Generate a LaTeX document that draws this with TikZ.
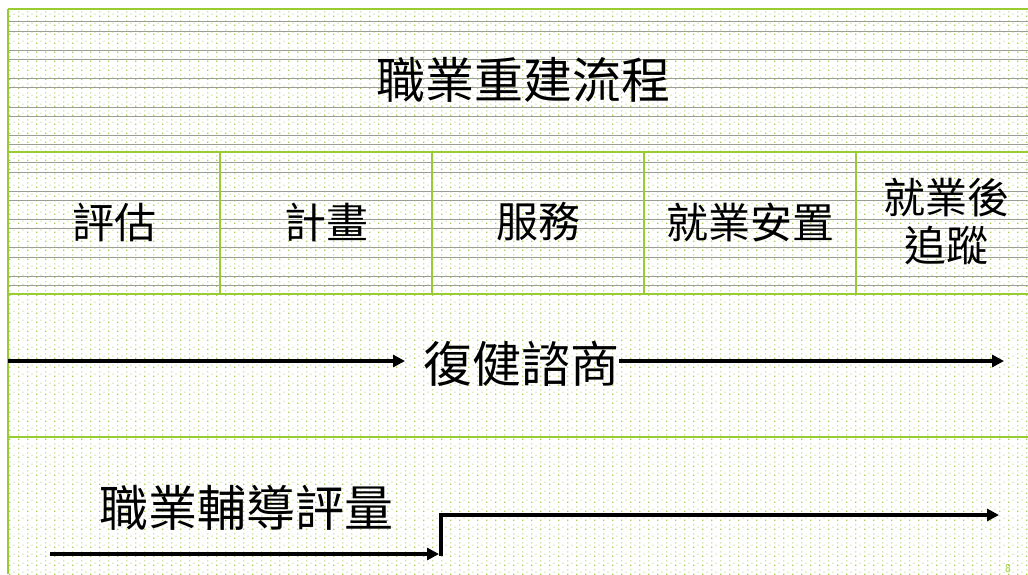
\documentclass[tikz,border=0pt]{standalone}
\usepackage{fontspec}
\newfontfamily\cjk{Noto Sans CJK TC}
\usetikzlibrary{arrows.meta,patterns}
\definecolor{lgreen}{HTML}{99CC33}
\definecolor{dotA}{HTML}{A8D04A}
\definecolor{dotB}{HTML}{D6E4B8}
\definecolor{rulegray}{HTML}{9A9E94}
\pgfdeclarepatterninherentlycolored{mydots}{\pgfpointorigin}{\pgfpoint{9.4pt}{9.4pt}}{\pgfpoint{9.4pt}{9.4pt}}{%
  \pgfsetfillcolor{dotA}\pgfpathrectangle{\pgfpoint{0pt}{0pt}}{\pgfpoint{1.5pt}{1.5pt}}\pgfusepath{fill}%
  \pgfsetfillcolor{dotB}\pgfpathrectangle{\pgfpoint{0pt}{4.7pt}}{\pgfpoint{1.5pt}{1.5pt}}\pgfusepath{fill}%
  \pgfsetfillcolor{dotB}\pgfpathrectangle{\pgfpoint{4.7pt}{2.3pt}}{\pgfpoint{1.2pt}{1.2pt}}\pgfusepath{fill}%
}
\tikzset{
  greenrule/.style={draw=lgreen,line width=2pt},
  grayrule/.style={draw=rulegray,line width=1pt},
  bigtext/.style={font=\cjk\fontsize{49}{56}\selectfont,inner sep=0pt,text=black},
  phasetext/.style={font=\cjk\fontsize{42}{48}\selectfont,inner sep=0pt,text=black,align=center},
  flow/.style={draw=black,line width=3.5pt,-{Triangle[length=12pt,width=12pt]}},
  plain/.style={draw=black,line width=3.5pt},
}
\begin{document}
\begin{tikzpicture}[x=1pt,y=-1pt]
\useasboundingbox (0,0) rectangle (1028,574);
\fill[white] (0,0) rectangle (1028,574);
\fill[pattern=mydots] (9,10) rectangle (1028,574);
% gray rules in title band
\foreach \yy in {21,31,50,59,78,87,107,116,135,144}{
  \draw[grayrule] (9,\yy) -- (1028,\yy);
}
% gray rules in phase band
\foreach \yy in {162,172,191,200,219,228,247,257,276,285}{
  \draw[grayrule] (9,\yy) -- (1028,\yy);
}
% green frame lines
\draw[greenrule] (8,9) -- (1028,9);
\draw[greenrule] (8,9) -- (8,574);
\draw[greenrule] (8,152) -- (1028,152);
\draw[greenrule] (8,294) -- (1028,294);
\draw[greenrule] (8,437) -- (1028,437);
\foreach \xx in {220,432,644,856}{
  \draw[greenrule] (\xx,152) -- (\xx,294);
}
% title
\node[bigtext] (title) at (523,80) {職業重建流程};
% phases
\node[phasetext] (p1) at (114,222) {評估};
\node[phasetext] (p2) at (326,222) {計畫};
\node[phasetext] (p3) at (538,222) {服務};
\node[phasetext] (p4) at (750,222) {就業安置};
\node[phasetext] (p5) at (946,222) {就業後\\追蹤};
% rehab counselling
\node[bigtext] (rc) at (521,364) {復健諮商};
\coordinate (rcL) at (8,361);
\coordinate (rcM) at (405,361);
\coordinate (rcR) at (1004,361);
\draw[flow] (rcL) -- (rcM);
\draw[flow] (rc.east |- rcL) -- (rcR);
% vocational evaluation
\node[bigtext] (ve) at (246,508) {職業輔導評量};
\coordinate (veA) at (50,554);
\coordinate (veB) at (439,554);
\coordinate (veC) at (441,515);
\coordinate (veD) at (999,515);
\draw[flow] (veA) -- (veB);
\draw[plain,line cap=rect] (veC |- veA) -- (veC);
\draw[flow] (veC) -- (veD);
% page number
\node[font=\sffamily\fontsize{12}{12}\selectfont,text=lgreen,inner sep=0pt,anchor=south] (pg) at (1008,573) {8};
\end{tikzpicture}
\end{document}
